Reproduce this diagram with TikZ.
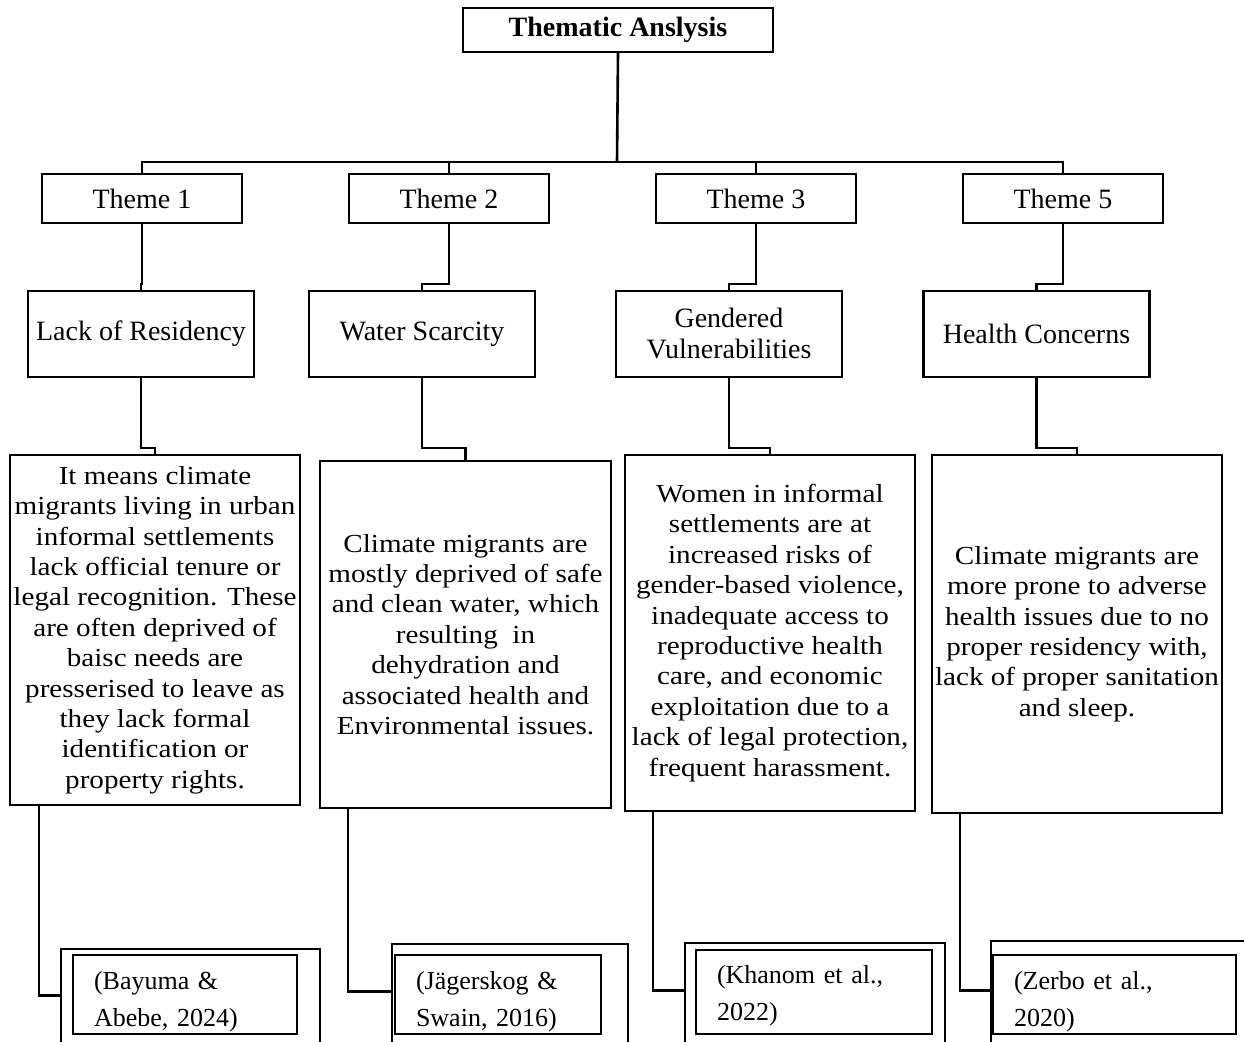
\documentclass[tikz,border=0pt]{standalone}
\usepackage{fontspec}
\setmainfont{Liberation Serif}
\newfontfamily\bodyfont{Liberation Serif}[FakeStretch=1.12]

\begin{document}
\begin{tikzpicture}[x=0.5pt, y=-0.5pt,
    box/.style={draw, line width=1.2pt, inner sep=1pt, align=center,
      font=\fontsize{14}{15.5}\selectfont},
    themebox/.style={box, minimum width=100pt, minimum height=24.5pt},
    catbox/.style={box, minimum width=113pt, minimum height=43pt},
    textbox/.style={box, minimum width=145pt,
      font=\bodyfont\fontsize{13}{15.2}\selectfont},
    outerbox/.style={draw, line width=1.2pt, inner sep=0pt},
    citebox/.style={draw, line width=0.7pt, inner xsep=10.5pt, inner ysep=0pt,
      align=left, minimum height=39.5pt, font=\fontsize{13}{18.3}\selectfont},
    link/.style={line width=1.3pt}]
  \useasboundingbox (0,0) rectangle (1244,1042);

  % top
  \node[box, minimum width=155pt, minimum height=22pt, font=\bfseries\fontsize{14}{16}\selectfont]
    (title) at (618,30) {Thematic Anslysis};
  \coordinate (bar) at (617,162);

  % themes
  \node[themebox] (th1) at (142,198.5) {Theme 1};
  \node[themebox] (th2) at (449,198.5) {Theme 2};
  \node[themebox] (th3) at (756,198.5) {Theme 3};
  \node[themebox] (th4) at (1063,198.5) {Theme 5};

  % categories
  \node[catbox] (cat1) at (141,334) {Lack of Residency};
  \node[catbox] (cat2) at (422,334) {Water Scarcity};
  \node[catbox] (cat3) at (729,334) {Gendered\\Vulnerabilities};
  \node[catbox] (cat4) at (1036.5,334) {Health Concerns};

  % descriptions
  \node[textbox, minimum height=175pt] (det1) at (155,630)
    {It means climate\\migrants living in urban\\informal settlements\\lack official tenure or\\legal recognition. These\\are often deprived of\\baisc needs are\\presserised to leave as\\they lack formal\\identification or\\property rights.};
  \node[textbox, minimum width=145.5pt, minimum height=173.5pt] (det2) at (465.5,634.5)
    {Climate migrants are\\mostly deprived of safe\\and clean water, which\\resulting\ \ in\\dehydration and\\associated health and\\Environmental issues.};
  \node[textbox, minimum height=178pt] (det3) at (770,633)
    {Women in informal\\settlements are at\\increased risks of\\gender-based violence,\\inadequate access to\\reproductive health\\care, and economic\\exploitation due to a\\lack of legal protection,\\frequent harassment.};
  \node[textbox, minimum height=179pt] (det4) at (1077,634)
    {Climate migrants are\\more prone to adverse\\health issues due to no\\proper residency with,\\lack of proper sanitation\\and sleep.};

  % references
  \node[outerbox, minimum width=129.5pt, minimum height=55.5pt] (out1) at (190.5,1004.5) {};
  \node[outerbox, minimum width=118pt, minimum height=58pt] (out2) at (510,1002) {};
  \node[outerbox, minimum width=130pt, minimum height=58.5pt] (out3) at (815,1001.5) {};
  \node[outerbox, minimum width=139.5pt, minimum height=59.5pt] (out4) at (1130.5,1000.5) {};
  \node[citebox, text width=91pt] (ref1) at (185,994.5) {\rule{0pt}{16pt}(Bayuma \&\\Abebe, 2024)};
  \node[citebox, text width=82pt] (ref2) at (498,994.5) {\rule{0pt}{16pt}(Jägerskog \&\\Swain, 2016)};
  \node[citebox, text width=97pt, minimum height=42pt] (ref3) at (814,992) {\rule{0pt}{13pt}(Khanom et al.,\\2022)};
  \node[citebox, text width=100.5pt] (ref4) at (1114.5,994.5) {\rule{0pt}{16pt}(Zerbo et al.,\\2020)};

  % connectors
  \draw[link] (title.south) -- (bar);
  \draw[link] (th1.north) |- (bar) -| (th4.north);
  \draw[link] (th2.north) -- (th2.north |- bar);
  \draw[link] (th3.north) -- (th3.north |- bar);

  \draw[link] (th1.south) -- ++(0,60) -| (cat1.north);
  \draw[link] (th2.south) -- ++(0,60) -| (cat2.north);
  \draw[link] (th3.south) -- ++(0,60) -| (cat3.north);
  \draw[link] (th4.south) -- ++(0,60) -| (cat4.north);

  \draw[link] (cat1.south) -- ++(0,70) -| (det1.north);
  \draw[link] (cat2.south) -- ++(0,70) -| (det2.north);
  \draw[link] (cat3.south) -- ++(0,70) -| (det3.north);
  \draw[link] (cat4.south) -- ++(0,70) -| (det4.north);

  \draw[link] ([xshift=15pt]det1.south west) |- ([yshift=-24pt]out1.north west);
  \draw[link] ([xshift=14.5pt]det2.south west) |- ([yshift=-24.5pt]out2.north west);
  \draw[link] ([xshift=14.5pt]det3.south west) |- ([yshift=-24.5pt]out3.north west);
  \draw[link] ([xshift=14.5pt]det4.south west) |- ([yshift=-25.5pt]out4.north west);
\end{tikzpicture}
\end{document}
